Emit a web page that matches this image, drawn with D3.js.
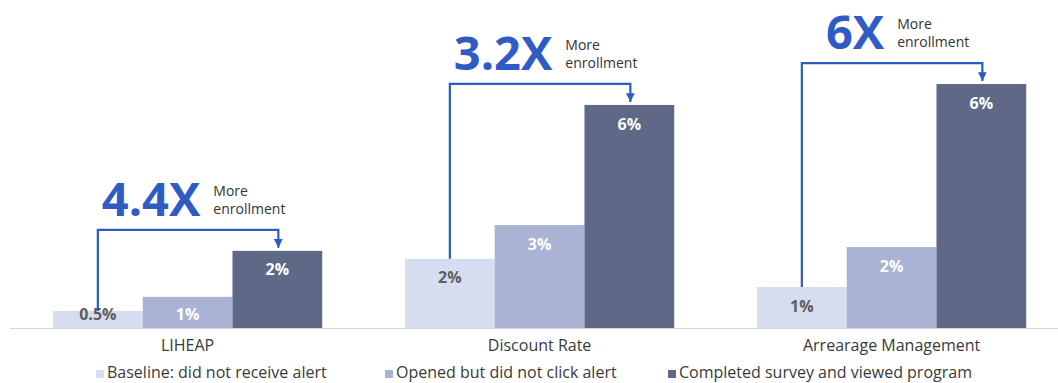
<!DOCTYPE html>
<html>
<head>
<meta charset="utf-8">
<script src="https://cdn.jsdelivr.net/npm/d3@7"></script>
<style>
  html, body { margin: 0; padding: 0; background: #fff; }
  svg { display: block; font-family: "Open Sans", sans-serif; }
</style>
</head>
<body>
<svg id="chart"></svg>
<script>
const categories = ['LIHEAP', 'Discount Rate', 'Arrearage Management'];
const seriesNames = [
  'Baseline: did not receive alert',
  'Opened but did not click alert',
  'Completed survey and viewed program',
];
// percent enrolled
const baselineValues = [0.45, 1.82, 1.08];
const openedValues = [0.82, 2.71, 2.13];
const completedValues = [2.03, 5.87, 6.42];
// printed labels on the bars
const baselineLabels = ['0.5%', '2%', '1%'];
const openedLabels = ['1%', '3%', '2%'];
const completedLabels = ['2%', '6%', '6%'];
const multipliers = ['4.4X', '3.2X', '6X'];

const width = 1058;
const height = 383;
const baseY = 328;
const colors = ['#d7ddf0', '#aab3d3', '#5f6887'];
const blue = '#2f5bc4';

const seriesValues = [baselineValues, openedValues, completedValues];
const seriesLabels = [baselineLabels, openedLabels, completedLabels];

const rows = categories.flatMap((cat, i) =>
  seriesNames.map((s, j) => ({
    cat,
    series: s,
    j,
    value: seriesValues[j][i],
    label: seriesLabels[j][i],
  }))
);

const xScale = d3
  .scaleBand()
  .domain(categories)
  .range([11.6, 1067.6])
  .paddingInner(0.235)
  .paddingOuter(0.1175);
const xzScale = d3
  .scaleBand()
  .domain(seriesNames)
  .range([0, xScale.bandwidth()])
  .padding(0);
const yScale = d3.scaleLinear().domain([0, 7]).range([baseY, baseY - 7 * 38]);
const colorScale = d3.scaleOrdinal(seriesNames, colors);

const svg = d3.select('#chart')
    .attr('width', width)
    .attr('height', height)
    .attr('viewBox', [0, 0, width, height]);

// bars
svg.append('g')
  .selectAll('rect')
  .data(rows)
  .join('rect')
    .attr('x', d => xScale(d.cat) + xzScale(d.series))
    .attr('y', d => yScale(d.value))
    .attr('width', xzScale.bandwidth())
    .attr('height', d => yScale(0) - yScale(d.value))
    .attr('fill', d => colorScale(d.series));

// value labels
svg.append('g')
  .selectAll('text')
  .data(rows)
  .join('text')
    .attr('x', d => xScale(d.cat) + xzScale(d.series) + xzScale.bandwidth() / 2)
    .attr('y', d => Math.min(yScale(d.value) + 19, baseY - 14))
    .attr('dy', '0.35em')
    .attr('text-anchor', 'middle')
    .attr('font-size', 16)
    .attr('font-weight', 700)
    .attr('fill', d => d.j === 0 ? '#5e5e5e' : '#fff')
    .text(d => d.label);

// baseline
svg.append('line')
    .attr('x1', 10)
    .attr('x2', width)
    .attr('y1', baseY + 0.5)
    .attr('y2', baseY + 0.5)
    .attr('stroke', '#d6d6d6')
    .attr('stroke-width', 1);

// category axis
const xAxis = d3.axisBottom(xScale).tickSize(0).tickPadding(0);
svg.append('g')
    .attr('transform', `translate(0,${baseY})`)
    .call(xAxis)
    .call(g => g.select('.domain').remove())
    .call(g => g.selectAll('.tick text')
        .attr('y', 23)
        .attr('dy', 0)
        .attr('font-family', '"Open Sans", sans-serif')
        .attr('font-size', 16)
        .attr('fill', '#3a3a3a'));

// multiplier annotations
const defs = svg.append('defs');
defs.append('marker')
    .attr('id', 'arrow')
    .attr('viewBox', '0 0 10 10')
    .attr('refX', 10)
    .attr('refY', 5)
    .attr('markerWidth', 4)
    .attr('markerHeight', 4)
    .attr('orient', 'auto')
  .append('path')
    .attr('d', 'M0,0L10,5L0,10Z')
    .attr('fill', blue);

const ann = svg.append('g')
  .selectAll('g')
  .data(categories)
  .join('g');

ann.each(function(cat, i) {
  const g = d3.select(this);
  const x0 = xScale(cat) + xzScale(seriesNames[0]) + xzScale.bandwidth() / 2;
  const x2 = xScale(cat) + xzScale(seriesNames[2]) + xzScale.bandwidth() / 2 + 1;
  const yTop = yScale(completedValues[i]);
  const lineY = yTop - 21;

  g.append('path')
      .attr('d', `M${x0},${yScale(baselineValues[i])}V${lineY}H${x2}V${yTop - 3}`)
      .attr('fill', 'none')
      .attr('stroke', blue)
      .attr('stroke-width', 2.2)
      .attr('marker-end', 'url(#arrow)');

  const textY = lineY - 14;
  const big = g.append('text')
      .attr('y', textY)
      .attr('font-size', 47)
      .attr('font-weight', 700)
      .attr('fill', blue)
      .text(multipliers[i]);
  const bigW = big.node().getComputedTextLength();
  const small = g.append('text')
      .attr('font-size', 14)
      .attr('fill', '#333');
  small.append('tspan').attr('y', textY - 20).text('More');
  small.append('tspan').attr('y', textY - 2).text('enrollment');
  small.selectAll('tspan').attr('x', 0);
  const smallW = small.node().getBBox().width;
  const gap = 13;
  const cx = xScale(cat) + xScale.bandwidth() / 2 + 6;
  const left = cx - (bigW + gap + smallW) / 2;
  big.attr('x', left);
  small.selectAll('tspan').attr('x', left + bigW + gap);
});

// legend
const legendX = [96, 385, 668];
const legend = svg.append('g')
  .selectAll('g')
  .data(seriesNames)
  .join('g')
    .attr('transform', (d, i) => `translate(${legendX[i]},378)`);

legend.append('rect')
    .attr('x', 0)
    .attr('y', -8)
    .attr('width', 8)
    .attr('height', 8)
    .attr('fill', d => colorScale(d));

legend.append('text')
    .attr('x', 11)
    .attr('y', 0)
    .attr('font-size', 16)
    .attr('fill', '#3a3a3a')
    .text(d => d);
</script>
</body>
</html>
